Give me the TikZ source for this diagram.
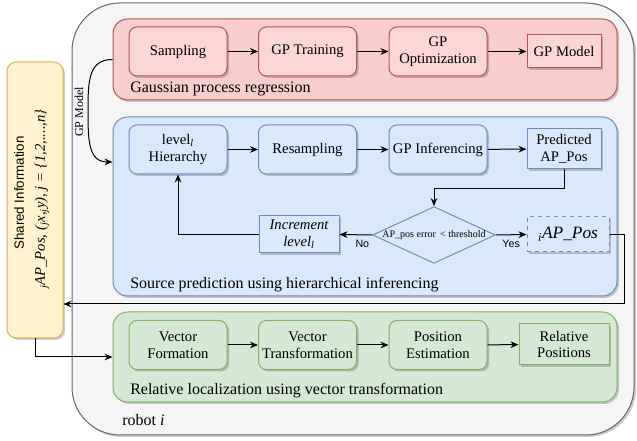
\documentclass[tikz,border=0pt]{standalone}
\usepackage{fontspec}
\setmainfont{Liberation Serif}
\setsansfont{Liberation Sans}
\usetikzlibrary{arrows.meta,shapes.geometric,shadows}

\definecolor{robotfill}{HTML}{F5F5F5}
\definecolor{robotline}{HTML}{666666}
\definecolor{redfill}{HTML}{F8CECC}
\definecolor{redbox}{HTML}{FAD7D4}
\definecolor{redline}{HTML}{B85450}
\definecolor{bluefill}{HTML}{DAE8FC}
\definecolor{blueline}{HTML}{6C8EBF}
\definecolor{greenfill}{HTML}{D5E8D4}
\definecolor{greenline}{HTML}{82B366}
\definecolor{yellowfill}{HTML}{FFF2CC}
\definecolor{yellowline}{HTML}{D6B656}

\tikzset{
  shade/.style={drop shadow={shadow xshift=1.5pt,shadow yshift=-1.5pt,opacity=0.2,fill=black}},
  group/.style={rounded corners=11pt,line width=0.75pt,minimum width=378pt,shade},
  stepbox/.style={rounded corners=6pt,line width=0.75pt,align=center,minimum width=73.5pt,
    minimum height=36.75pt,inner sep=1pt,font=\fontsize{11}{12.5}\selectfont,shade},
  endbox/.style={line width=0.75pt,align=center,inner sep=1pt,font=\fontsize{11}{12.5}\selectfont,shade},
  flow/.style={-{Stealth[length=6pt,width=5pt]},line width=0.75pt},
  grouplabel/.style={anchor=west,inner sep=0pt,font=\fontsize{12}{14}\selectfont},
  redstep/.style={stepbox,draw=redline,fill=redbox},
  bluestep/.style={stepbox,draw=blueline,fill=bluefill},
  greenstep/.style={stepbox,draw=greenline,fill=greenfill},
}

\begin{document}
\begin{tikzpicture}[x=0.75pt,y=-0.75pt]
  \useasboundingbox[fill=white] (0,0) rectangle (637,441);

  % containers
  \node[draw=robotline,fill=robotfill,line width=0.75pt,rounded corners=36pt,
        minimum width=421.5pt,minimum height=324pt,shade] (robot) at (353,219) {};
  \node[draw=yellowline,fill=yellowfill,line width=0.75pt,rounded corners=7pt,
        minimum width=42pt,minimum height=207pt,shade] (shared) at (35,200) {};
  \node[group,draw=redline,fill=redfill,minimum height=60.75pt] (gpr) at (365,59.5) {};
  \node[group,draw=blueline,fill=bluefill,minimum height=134.25pt] (pred) at (365,206.5) {};
  \node[group,draw=greenline,fill=greenfill,minimum height=67.5pt] (rel) at (365,357) {};

  % labels of the containers
  \node[grouplabel] (gprlabel) at (130,89) {Gaussian process regression};
  \node[grouplabel] (predlabel) at (130,285) {Source prediction using hierarchical inferencing};
  \node[grouplabel] (rellabel) at (130,391) {Relative localization using vector transformation};
  \node[grouplabel] (robotlabel) at (122,420) {robot \textit{i}};
  \node[rotate=90,inner sep=0pt,font=\sffamily\fontsize{10}{12}\selectfont] (sharedtitle) at (19,193) {Shared Information};
  \node[rotate=90,inner sep=0pt,font=\itshape\fontsize{11}{13}\selectfont] (sharedpos) at (42,200)
    {\textsubscript{\,j}AP\_Pos, (\textsubscript{j}x,\textsubscript{j}y), j = \{1,2,....,n\}};

  % Gaussian process regression
  \node[redstep] (sampling) at (178,51.5) {Sampling};
  \node[redstep] (training) at (307.5,51.5) {GP Training};
  \node[redstep] (optim) at (438,51.5) {GP\\Optimization};
  \node[endbox,draw=redline,fill=redbox,minimum width=55.5pt,minimum height=24.75pt] (model) at (564,51.5) {GP Model};

  % source prediction
  \node[bluestep] (hier) at (178,149.5) {level\textsubscript{\textit{l}}\\Hierarchy};
  \node[bluestep] (resamp) at (307.5,149.5) {Resampling};
  \node[bluestep] (infer) at (438,149.5) {GP Inferencing};
  \node[endbox,draw=blueline,fill=bluefill,minimum width=55.5pt,minimum height=30pt] (predpos) at (564,149) {Predicted\\AP\_Pos};
  \node[diamond,draw=blueline,fill=bluefill,line width=0.75pt,aspect=2.16,inner sep=0pt,
        minimum width=90.75pt,minimum height=42pt,font=\fontsize{7.5}{9}\selectfont] (check) at (434,235)
    {AP\_pos error \,< threshold};
  \node[endbox,draw=blueline,fill=bluefill,minimum width=60pt,minimum height=27.75pt,font=\itshape\fontsize{11}{12.5}\selectfont]
    (incr) at (299,234.5) {Increment\\level\textsubscript{l}};
  \node[endbox,draw=blueline,dashed,fill=bluefill,minimum width=61.5pt,minimum height=26.25pt,
        font=\itshape\fontsize{13}{15}\selectfont] (iap) at (568,234.5) {\textsubscript{i}AP\_Pos};

  % relative localization
  \node[greenstep] (vform) at (178,345) {Vector\\Formation};
  \node[greenstep] (vtrans) at (307.5,345) {Vector\\Transformation};
  \node[greenstep] (posest) at (438,345) {Position\\Estimation};
  \node[endbox,draw=greenline,fill=greenfill,minimum width=67.5pt,minimum height=30.75pt] (relpos) at (564,344.5) {Relative\\Positions};

  % connectors
  \draw[flow] (sampling) -- (training);
  \draw[flow] (training) -- (optim);
  \draw[flow] (optim) -- (model);
  \draw[flow] (hier) -- (resamp);
  \draw[flow] (resamp) -- (infer);
  \draw[flow] (infer) -- (predpos);
  \draw[flow] (predpos.south) -- ++(0,19) -| (check.north);
  \draw[flow] (check.west) -- node[pos=0.3,below,font=\sffamily\fontsize{8}{9}\selectfont] {No} (incr.east);
  \draw[flow] (check.east) -- node[pos=0.5,below,font=\sffamily\fontsize{8}{9}\selectfont] {Yes} (iap.west);
  \draw[flow] (incr.west) -| (hier.south);
  \draw[flow] (vform) -- (vtrans);
  \draw[flow] (vtrans) -- (posest);
  \draw[flow] (posest) -- (relpos);

  \coordinate (turn) at (624,304);
  \coordinate (bend) at (88,111);
  \draw[flow] (iap.east) -| (turn) -- (turn -| shared.east);
  \draw[flow] (shared.south) |- (rel.west);
  \draw[flow] (gpr.west) .. controls +(-24,0) and +(0,-30) .. (bend)
    .. controls +(0,30) and +(-24,0) .. ([yshift=33.4pt]pred.west);
  \node[rotate=90,inner sep=0pt,font=\fontsize{9}{10}\selectfont] (gplabel) at (79,112) {GP Model};
\end{tikzpicture}
\end{document}
